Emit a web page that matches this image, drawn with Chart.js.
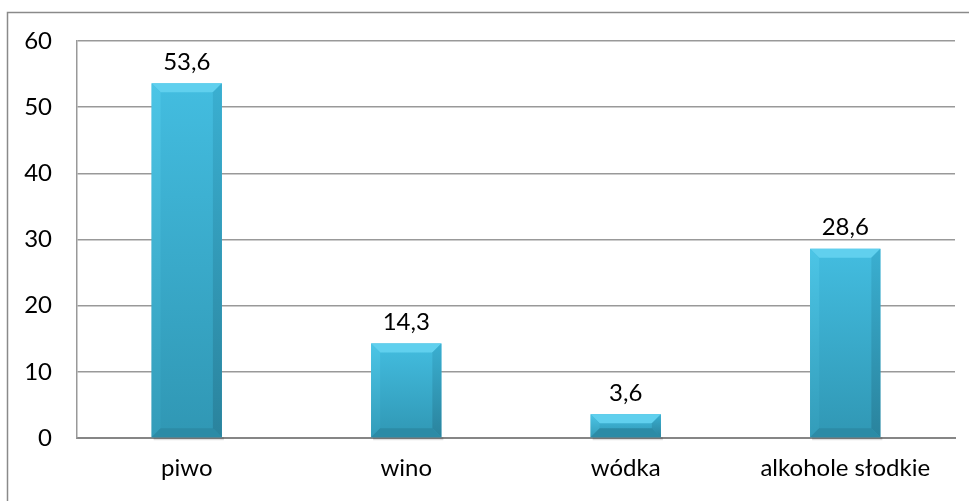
<!DOCTYPE html>
<html>
<head>
<meta charset="utf-8">
<script src="https://cdn.jsdelivr.net/npm/chart.js@4"></script>
<style>
  html, body { margin: 0; padding: 0; background: #fff; }
  #wrap { width: 969px; height: 501px; }
</style>
</head>
<body>
<div id="wrap"><canvas id="chart" width="969" height="501"></canvas></div>
<script>
// Chart data
const categories = ["piwo", "wino", "wódka", "alkohole słodkie"];
const values = [53.6, 14.3, 3.6, 28.6];
const yTicks = [0, 10, 20, 30, 40, 50, 60];

const FONT = "Lato, 'Open Sans', sans-serif";
const FONT_SIZE = 24;

// Outer frame of the chart object
const framePlugin = {
    id: "frame",
    beforeDraw(chart) {
        const ctx = chart.ctx;
        ctx.save();
        ctx.strokeStyle = "#8a8a8a";
        ctx.lineWidth = 1.5;
        ctx.beginPath();
        ctx.moveTo(7.5, 510);
        ctx.lineTo(7.5, 12.5);
        ctx.lineTo(980, 12.5);
        ctx.stroke();
        ctx.restore();
    },
};

// Bevelled bars + value labels
const bevelPlugin = {
    id: "bevel",
    afterDatasetsDraw(chart) {
        const ctx = chart.ctx;
        const meta = chart.getDatasetMeta(0);
        meta.data.forEach((bar, i) => {
            const w = bar.width;
            const l = bar.x - w / 2, r = bar.x + w / 2;
            const t = bar.y, b = bar.base;
            const bv = Math.min(9, (b - t) / 2);

            ctx.save();
            // shadow
            ctx.fillStyle = "rgba(0,0,0,0.12)";
            ctx.fillRect(l + 2, b, w, 3);

            // body
            const g = ctx.createLinearGradient(0, t, 0, b);
            g.addColorStop(0, "#43bde0");
            g.addColorStop(1, "#3097b4");
            ctx.fillStyle = g;
            ctx.fillRect(l, t, w, b - t);

            // top bevel
            ctx.fillStyle = "#60d0ee";
            ctx.beginPath();
            ctx.moveTo(l, t); ctx.lineTo(r, t); ctx.lineTo(r - bv, t + bv); ctx.lineTo(l + bv, t + bv);
            ctx.closePath(); ctx.fill();
            // left bevel
            const gl = ctx.createLinearGradient(0, t, 0, b);
            gl.addColorStop(0, "#4cc5e6");
            gl.addColorStop(1, "#339cb9");
            ctx.fillStyle = gl;
            ctx.beginPath();
            ctx.moveTo(l, t); ctx.lineTo(l + bv, t + bv); ctx.lineTo(l + bv, b - bv); ctx.lineTo(l, b);
            ctx.closePath(); ctx.fill();
            // right bevel
            const gr = ctx.createLinearGradient(0, t, 0, b);
            gr.addColorStop(0, "#3aafd1");
            gr.addColorStop(1, "#2a839d");
            ctx.fillStyle = gr;
            ctx.beginPath();
            ctx.moveTo(r, t); ctx.lineTo(r - bv, t + bv); ctx.lineTo(r - bv, b - bv); ctx.lineTo(r, b);
            ctx.closePath(); ctx.fill();
            // bottom bevel
            ctx.fillStyle = "#2c8ba6";
            ctx.beginPath();
            ctx.moveTo(l, b); ctx.lineTo(l + bv, b - bv); ctx.lineTo(r - bv, b - bv); ctx.lineTo(r, b);
            ctx.closePath(); ctx.fill();

            // label
            ctx.fillStyle = "#000";
            ctx.font = FONT_SIZE + "px " + FONT;
            ctx.textAlign = "center";
            ctx.textBaseline = "middle";
            ctx.fillText(String(values[i]).replace(".", ","), bar.x, t - 21);
            ctx.restore();
        });
    },
};

new Chart(document.getElementById("chart"), {
    type: "bar",
    data: {
        labels: categories,
        datasets: [{
            data: values,
            backgroundColor: "rgba(0,0,0,0)",
            borderWidth: 0,
            categoryPercentage: 1,
            barPercentage: 0.32,
        }],
    },
    options: {
        responsive: false,
        animation: false,
        layout: { padding: { top: 41, right: 14, left: 0, bottom: 0 } },
        plugins: { legend: { display: false }, tooltip: { enabled: false } },
        scales: {
            x: {
                grid: { display: false, drawTicks: false },
                border: { display: true, color: "#868686", width: 2 },
                ticks: { color: "#000", font: { family: FONT, size: FONT_SIZE }, padding: 16 },
                afterFit(scale) { scale.height = 63; },
            },
            y: {
                min: 0,
                max: 60,
                afterBuildTicks(scale) { scale.ticks = yTicks.map((v) => ({ value: v })); },
                grid: { color: "#999", lineWidth: 1.5, drawTicks: false },
                border: { display: true, color: "#999", width: 1.5 },
                ticks: { color: "#000", font: { family: FONT, size: FONT_SIZE }, padding: 25 },
                afterFit(scale) { scale.width = 77; },
            },
        },
    },
    plugins: [framePlugin, bevelPlugin],
});
</script>
</body>
</html>
